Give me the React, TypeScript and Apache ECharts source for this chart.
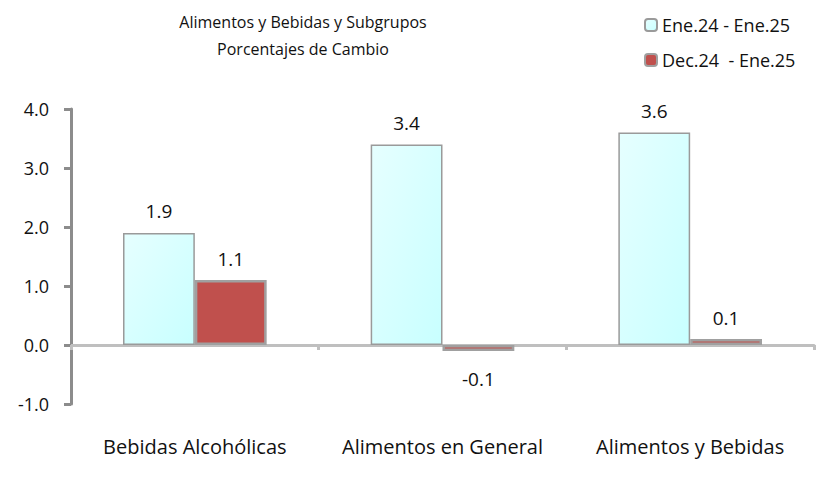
import React, { useEffect, useRef } from "react";
import * as echarts from "echarts";

const categories = ["Bebidas Alcohólicas", "Alimentos en General", "Alimentos y Bebidas"];
const seriesNames = ["Ene.24 - Ene.25", "Dec.24  - Ene.25"];
const anual = [1.9, 3.4, 3.6];
const mensual = [1.1, -0.1, 0.1];
const titleLines = ["Alimentos y Bebidas y Subgrupos", "Porcentajes de Cambio"];

const FONT = "Open Sans";

export default function App() {
  const ref = useRef<HTMLDivElement>(null);
  useEffect(() => {
    const chart = echarts.init(ref.current!, null, { renderer: "svg" });
    const labelFmt = (p: any) => Number(p.value).toFixed(1);
    chart.setOption({
      animation: false,
      textStyle: { fontFamily: FONT },
      title: {
        text: titleLines.join("\n"),
        left: 298,
        textAlign: "center",
        top: 3,
        textStyle: { fontSize: 16, fontWeight: "normal", color: "#111", lineHeight: 27, fontFamily: FONT },
      },
      legend: {
        orient: "vertical",
        left: 639,
        top: 11,
        itemWidth: 12,
        itemHeight: 12,
        itemGap: 17,
        textStyle: { fontSize: 18, color: "#111", fontFamily: FONT },
        data: seriesNames,
      },
      grid: { left: 71, right: 5, top: 109, bottom: 81 },
      xAxis: {
        type: "category",
        data: categories,
        axisLine: { onZero: true, lineStyle: { color: "#bfbfbf", width: 3 } },
        axisTick: { show: true, length: 5, lineStyle: { color: "#bfbfbf", width: 3 } },
        axisLabel: { interval: 0, hideOverlap: false, margin: 32, fontSize: 20, color: "#111", fontFamily: FONT },
      },
      yAxis: {
        type: "value",
        min: -1,
        max: 4,
        interval: 1,
        splitLine: { show: false },
        axisLine: { show: true, lineStyle: { color: "#8c8c8c", width: 3 } },
        axisTick: { show: true, length: 7, lineStyle: { color: "#8c8c8c", width: 3 } },
        axisLabel: { margin: 22, fontSize: 18, color: "#111", fontFamily: FONT, formatter: (v: number) => v.toFixed(1) },
      },
      series: [
        {
          name: seriesNames[0],
          type: "bar",
          barGap: "0%",
          barCategoryGap: "42%",
          data: anual,
          itemStyle: {
            color: new echarts.graphic.LinearGradient(0, 0, 1, 1, [
              { offset: 0, color: "#e6ffff" },
              { offset: 1, color: "#c8ffff" },
            ]),
            borderColor: "#9a9a9a",
            borderWidth: 1.5,
          },
          label: { show: true, position: "top", distance: 12, fontSize: 19, color: "#111", formatter: labelFmt },
        },
        {
          name: seriesNames[1],
          type: "bar",
          data: mensual.map((v) => ({
            value: v,
            label: { position: v < 0 ? "bottom" : "top", distance: v < 0 ? 19 : 12 },
          })),
          itemStyle: { color: "#c0504d", borderColor: "#a0a0a0", borderWidth: 2.5 },
          label: { show: true, fontSize: 19, color: "#111", formatter: labelFmt },
        },
      ],
    });
    return () => chart.dispose();
  }, []);
  return <div ref={ref} style={{ width: 819, height: 485, position: "absolute", left: 0, top: 0 }} />;
}
